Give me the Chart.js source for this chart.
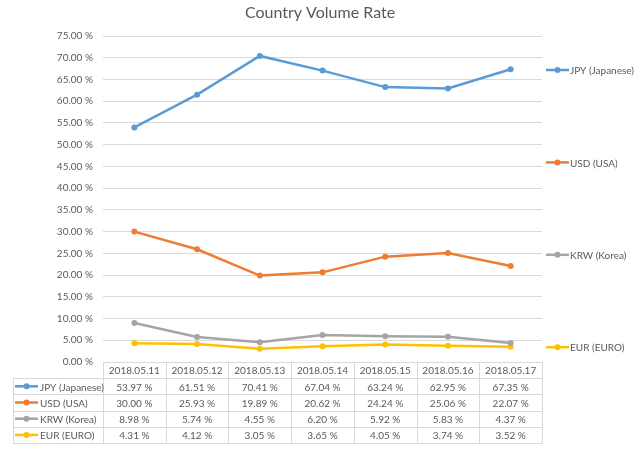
<!DOCTYPE html>
<html>
<head>
<meta charset="utf-8">
<script src="https://cdn.jsdelivr.net/npm/chart.js@4/dist/chart.umd.min.js"></script>
<style>
  html, body { margin: 0; padding: 0; background: #fff; }
  #wrap { width: 640px; height: 457px; }
</style>
</head>
<body>
<div id="wrap"><canvas id="rate" width="640" height="457"></canvas></div>
<script>
// data
var dates = ['2018.05.11', '2018.05.12', '2018.05.13', '2018.05.14', '2018.05.15', '2018.05.16', '2018.05.17'];
var seriesNames = ['JPY (Japanese)', 'USD (USA)', 'KRW (Korea)', 'EUR (EURO)'];
var jpy = [53.97, 61.51, 70.41, 67.04, 63.24, 62.95, 67.35];
var usd = [30.00, 25.93, 19.89, 20.62, 24.24, 25.06, 22.07];
var krw = [8.98, 5.74, 4.55, 6.20, 5.92, 5.83, 4.37];
var eur = [4.31, 4.12, 3.05, 3.65, 4.05, 3.74, 3.52];
var yMin = 0, yMax = 75, yStep = 2.5;
var title = 'Country Volume Rate';

var colors = ['#5B9BD5', '#ED7D31', '#A5A5A5', '#FFC000'];
var FONT = 'Lato, "Open Sans", sans-serif';
var TXT = '#595959';
var GRID = '#d9d9d9';

var allSeries = [jpy, usd, krw, eur];

function fmt(v){
	return v.toFixed(2) + ' %';
}

// draws title, the legend on the right and the data table under the plot
var tablePlugin = {
	id: 'tableAndLegend',
	afterDraw: function(chart){
		var ctx = chart.ctx;
		var x = chart.scales.x;
		var area = chart.chartArea;
		var step = x.getPixelForValue(1) - x.getPixelForValue(0);
		var left = x.getPixelForValue(0) - step / 2;
		var right = x.getPixelForValue(dates.length - 1) + step / 2;
		var rowH = 16.2;
		var top = area.bottom;
		var keyLeft = 13;

		ctx.save();
		// title, centred on the whole picture
		ctx.font = '16px ' + FONT;
		ctx.fillStyle = TXT;
		ctx.textAlign = 'center';
		ctx.textBaseline = 'middle';
		ctx.fillText(title, chart.width / 2, 13);

		ctx.strokeStyle = GRID;
		ctx.lineWidth = 1;

		// horizontal rules
		ctx.beginPath();
		ctx.moveTo(left, top + 0.5);
		ctx.lineTo(right, top + 0.5);
		for (var r = 1; r <= seriesNames.length + 1; r++){
			var yy = Math.round(top + r * rowH) + 0.5;
			ctx.moveTo(keyLeft, yy);
			ctx.lineTo(right, yy);
		}
		// vertical rules
		var bottom = Math.round(top + (seriesNames.length + 1) * rowH) + 0.5;
		ctx.moveTo(keyLeft + 0.5, Math.round(top + rowH));
		ctx.lineTo(keyLeft + 0.5, bottom);
		for (var c = 0; c <= dates.length; c++){
			var xx = Math.round(left + c * step) + 0.5;
			ctx.moveTo(xx, top);
			ctx.lineTo(xx, bottom);
		}
		ctx.stroke();

		ctx.font = '10px ' + FONT;
		ctx.fillStyle = TXT;
		ctx.textAlign = 'center';
		ctx.textBaseline = 'middle';
		for (var i = 0; i < dates.length; i++){
			var cx = x.getPixelForValue(i);
			ctx.fillStyle = TXT;
			ctx.fillText(dates[i], cx, top + rowH / 2 + 1);
			for (var s = 0; s < allSeries.length; s++){
				ctx.fillText(fmt(allSeries[s][i]), cx, top + rowH * (s + 1.5) + 1);
			}
		}

		// keys in the table
		for (var s = 0; s < seriesNames.length; s++){
			var ky = top + rowH * (s + 1.5);
			drawKey(ctx, 15, ky, colors[s]);
			ctx.fillStyle = TXT;
			ctx.textAlign = 'left';
			ctx.fillText(seriesNames[s], 40, ky + 1);
		}

		// legend on the right
		for (var s = 0; s < seriesNames.length; s++){
			var ly = area.top + 34 + s * 92.4;
			drawKey(ctx, 546, ly, colors[s]);
			ctx.fillStyle = TXT;
			ctx.textAlign = 'left';
			ctx.fillText(seriesNames[s], 570, ly + 1);
		}
		ctx.restore();
	}
};

function drawKey(ctx, x0, y, color){
	ctx.strokeStyle = color;
	ctx.lineWidth = 2.5;
	ctx.beginPath();
	ctx.moveTo(x0, y);
	ctx.lineTo(x0 + 23, y);
	ctx.stroke();
	ctx.fillStyle = color;
	ctx.beginPath();
	ctx.arc(x0 + 11.5, y, 3, 0, Math.PI * 2);
	ctx.fill();
	ctx.strokeStyle = GRID;
	ctx.lineWidth = 1;
}

var datasets = [];
for (var k = 0; k < seriesNames.length; k++){
	datasets.push({
		label: seriesNames[k],
		data: allSeries[k],
		borderColor: colors[k],
		backgroundColor: colors[k],
		borderWidth: 2.5,
		pointRadius: 3,
		pointBorderWidth: 0,
		tension: 0
	});
}

var rateChart = new Chart(document.getElementById('rate'), {
	type: 'line',
	data: { labels: dates, datasets: datasets },
	plugins: [tablePlugin],
	options: {
		responsive: false,
		animation: false,
		layout: { padding: { left: 0, right: 98, top: 36, bottom: 95 } },
		plugins: {
			legend: { display: false },
			tooltip: { enabled: false },
			title: { display: false }
		},
		scales: {
			x: {
				offset: true,
				grid: { display: false, offset: true },
				border: { display: false },
				ticks: { display: false },
				afterFit: function(s){ s.height = 0; }
			},
			y: {
				min: yMin,
				max: yMax,
				ticks: {
					stepSize: yStep,
					color: TXT,
					padding: 10,
					font: { family: FONT, size: 10 },
					callback: function(v){ return fmt(v); }
				},
				grid: { color: GRID, drawTicks: false },
				border: { display: false },
				afterFit: function(s){ s.width = 103; }
			}
		}
	}
});
</script>
</body>
</html>
